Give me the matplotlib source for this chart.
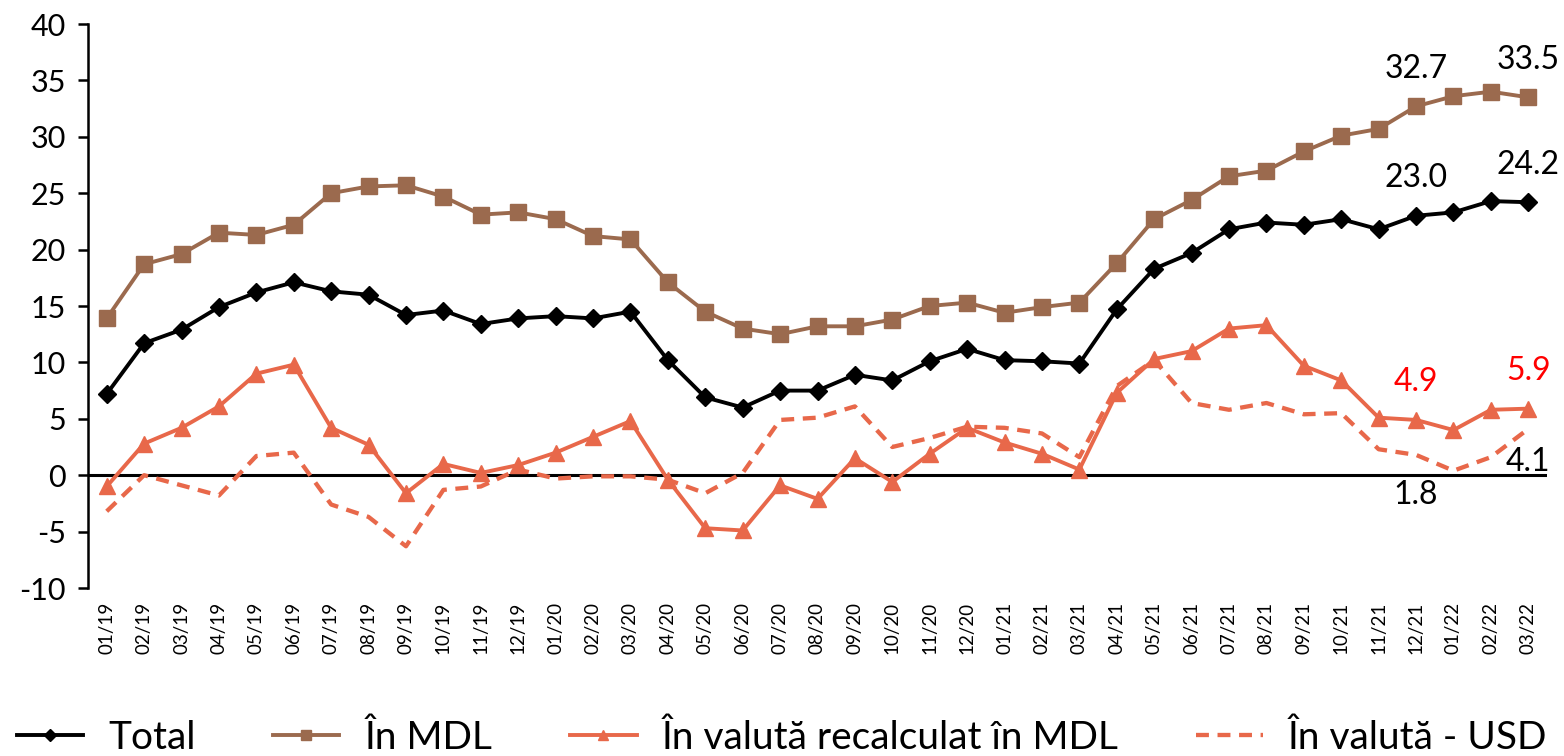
import matplotlib
matplotlib.use("Agg")
import matplotlib.pyplot as plt
import numpy as np

plt.rcParams['font.family'] = ['Lato', 'DejaVu Sans']

months = ["01/19", "02/19", "03/19", "04/19", "05/19", "06/19", "07/19", "08/19", "09/19", "10/19",
          "11/19", "12/19", "01/20", "02/20", "03/20", "04/20", "05/20", "06/20", "07/20", "08/20",
          "09/20", "10/20", "11/20", "12/20", "01/21", "02/21", "03/21", "04/21", "05/21", "06/21",
          "07/21", "08/21", "09/21", "10/21", "11/21", "12/21", "01/22", "02/22", "03/22"]

total = [7.2, 11.7, 12.9, 14.9, 16.2, 17.1, 16.3, 16.0, 14.2, 14.6,
         13.4, 13.9, 14.1, 13.9, 14.5, 10.2, 6.9, 6.0, 7.5, 7.5,
         8.9, 8.4, 10.1, 11.2, 10.2, 10.1, 9.9, 14.7, 18.3, 19.7,
         21.8, 22.4, 22.2, 22.7, 21.8, 23.0, 23.3, 24.3, 24.2]

in_mdl = [13.9, 18.7, 19.6, 21.5, 21.3, 22.2, 25.0, 25.6, 25.7, 24.7,
          23.1, 23.3, 22.7, 21.2, 20.9, 17.1, 14.5, 13.0, 12.5, 13.2,
          13.2, 13.8, 15.0, 15.3, 14.4, 14.9, 15.3, 18.8, 22.7, 24.4,
          26.5, 27.0, 28.7, 30.1, 30.7, 32.7, 33.6, 34.0, 33.5]

valuta_mdl = [-1.0, 2.8, 4.2, 6.1, 9.0, 9.8, 4.2, 2.7, -1.6, 1.0,
              0.2, 0.9, 2.0, 3.4, 4.8, -0.4, -4.7, -4.9, -0.9, -2.1,
              1.5, -0.6, 1.9, 4.2, 2.9, 1.9, 0.5, 7.3, 10.3, 11.0,
              13.0, 13.3, 9.7, 8.4, 5.1, 4.9, 4.0, 5.8, 5.9]

valuta_usd = [-3.2, 0.0, -0.9, -1.8, 1.7, 2.0, -2.6, -3.7, -6.3, -1.3,
              -1.0, 0.5, -0.3, -0.1, -0.1, -0.4, -1.6, 0.2, 4.9, 5.1,
              6.1, 2.5, 3.3, 4.3, 4.2, 3.7, 1.6, 7.9, 10.2, 6.4,
              5.8, 6.4, 5.4, 5.5, 2.3, 1.8, 0.4, 1.6, 4.1]

labels = ["Total", "În MDL", "În valută recalculat în MDL", "În valută - USD"]
yticks = [-10, -5, 0, 5, 10, 15, 20, 25, 30, 35, 40]

BLACK = "#000000"
BROWN = "#9B6A4E"
ORANGE = "#E8684A"
RED = "#FF0000"

fig = plt.figure(figsize=(15.64, 7.56), dpi=100)
ax = fig.add_axes([88 / 1564, 1 - 588 / 756, (1547 - 88) / 1564, (588 - 24) / 756])

x = np.arange(len(months))

ax.axhline(0, color=BLACK, lw=2.2, zorder=1)

LW = 2.8
l1, = ax.plot(x, total, color=BLACK, lw=LW, marker="D", markersize=9, zorder=5, label=labels[0])
l2, = ax.plot(x, in_mdl, color=BROWN, lw=LW, marker="s", markersize=11, zorder=4, label=labels[1])
l3, = ax.plot(x, valuta_mdl, color=ORANGE, lw=LW, marker="^", markersize=11, zorder=3, label=labels[2])
l4, = ax.plot(x, valuta_usd, color=ORANGE, lw=3.1, ls=(0, (3, 2)), zorder=2, label=labels[3])

ax.set_xlim(-0.5, len(months) - 0.5)
ax.set_ylim(-10, 40)
ax.set_yticks(yticks)
ax.set_yticklabels([str(v) for v in yticks])
ax.set_xticks(x)
ax.set_xticklabels(months, rotation=90, fontsize=13.5)

for s in ["top", "right", "bottom"]:
    ax.spines[s].set_visible(False)
ax.spines["left"].set_linewidth(1.8)
ax.tick_params(axis="y", direction="out", length=7, width=1.8, labelsize=22, pad=9)
ax.tick_params(axis="x", length=0, pad=10)

# annotations
i12 = months.index("12/21")
i03 = months.index("03/22")
off = 27
ax.annotate(f"{in_mdl[i12]:.1f}", (x[i12], in_mdl[i12]), xytext=(0, off), textcoords="offset points",
            ha="center", va="center", fontsize=23, color=BLACK)
ax.annotate(f"{in_mdl[i03]:.1f}", (x[i03], in_mdl[i03]), xytext=(0, off), textcoords="offset points",
            ha="center", va="center", fontsize=23, color=BLACK)
ax.annotate(f"{total[i12]:.1f}", (x[i12], total[i12]), xytext=(0, off), textcoords="offset points",
            ha="center", va="center", fontsize=23, color=BLACK)
ax.annotate(f"{total[i03]:.1f}", (x[i03], total[i03]), xytext=(0, off), textcoords="offset points",
            ha="center", va="center", fontsize=23, color=BLACK)
ax.annotate(f"{valuta_mdl[i12]:.1f}", (x[i12], valuta_mdl[i12]), xytext=(0, off), textcoords="offset points",
            ha="center", va="center", fontsize=23, color=RED)
ax.annotate(f"{valuta_mdl[i03]:.1f}", (x[i03], valuta_mdl[i03]), xytext=(0, off), textcoords="offset points",
            ha="center", va="center", fontsize=23, color=RED)
ax.annotate(f"{valuta_usd[i12]:.1f}", (x[i12], valuta_usd[i12]), xytext=(0, -29), textcoords="offset points",
            ha="center", va="center", fontsize=23, color=BLACK)
ax.annotate(f"{valuta_usd[i03]:.1f}", (x[i03], valuta_usd[i03]), xytext=(0, -24), textcoords="offset points",
            ha="center", va="center", fontsize=23, color=BLACK)

fig.legend(handles=[l1, l2, l3, l4], labels=labels, loc="lower center", bbox_to_anchor=(0.5, 0.0),
           ncol=4, frameon=False, fontsize=28, handlelength=1.7, handletextpad=0.65,
           columnspacing=2.0, borderaxespad=0, borderpad=0, markerscale=0.7)

fig.savefig("out.png", dpi=100)
